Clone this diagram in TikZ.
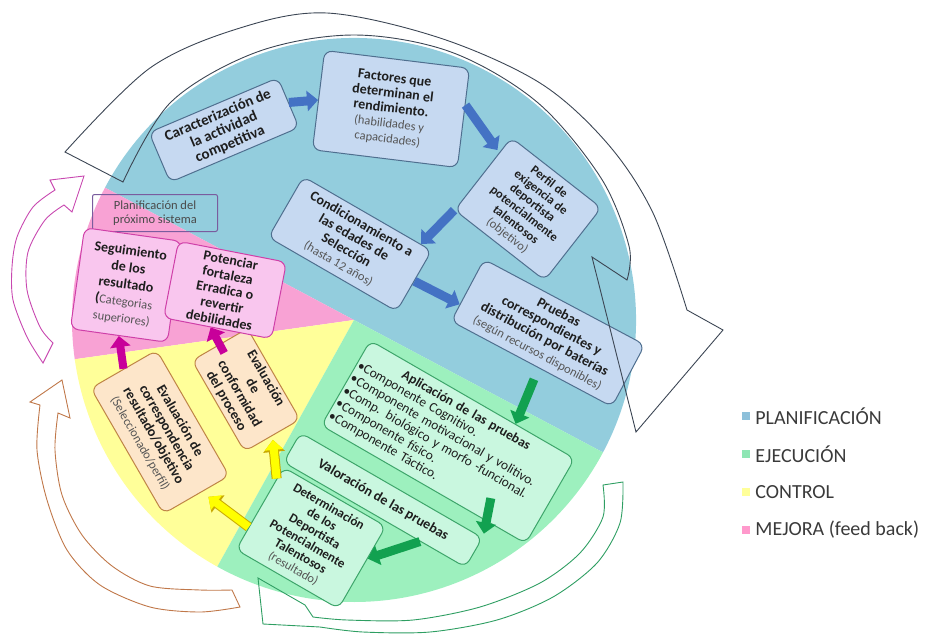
\documentclass[tikz,border=0pt]{standalone}
\usepackage{fontspec}
\setmainfont{Carlito}
\usetikzlibrary{arrows.meta, positioning, calc}
\definecolor{sectorPlan}{HTML}{93CDDD}
\definecolor{sectorEjec}{HTML}{9DF0BE}
\definecolor{sectorCtrl}{HTML}{FFFF99}
\definecolor{sectorMejora}{HTML}{F8A2D4}
\definecolor{cajaPlan}{HTML}{C6D9F1}
\definecolor{bordePlan}{HTML}{4F6F8F}
\definecolor{cajaEjec}{HTML}{C9F7DF}
\definecolor{bordeEjec}{HTML}{3DA56A}
\definecolor{cajaCtrl}{HTML}{FDE6CA}
\definecolor{bordeCtrl}{HTML}{BF8446}
\definecolor{cajaMejora}{HTML}{F9C6EE}
\definecolor{bordeMejora}{HTML}{CF3FA8}
\definecolor{flechaAzul}{HTML}{4472C4}
\definecolor{flechaVerde}{HTML}{12A150}
\definecolor{flechaAmarilla}{HTML}{FFFF00}
\definecolor{bordeAmarillo}{HTML}{C8A800}
\definecolor{flechaMagenta}{HTML}{C8009A}
\definecolor{textoCaja}{HTML}{1E1E1E}
\definecolor{textoNota}{HTML}{555555}
\definecolor{textoSistema}{HTML}{4A4A4A}
\definecolor{planSistema}{HTML}{7A5C9E}
\definecolor{arcoGris}{HTML}{3C4654}
\definecolor{arcoMagenta}{HTML}{C848B0}
\definecolor{arcoNaranja}{HTML}{C0784A}
\definecolor{arcoVerde}{HTML}{2E9E62}
\definecolor{legPlan}{HTML}{8DC0DA}
\definecolor{legEjec}{HTML}{8EE6B4}
\definecolor{legCtrl}{HTML}{FFFF99}
\definecolor{legMejora}{HTML}{FF99CC}
\definecolor{textoLeyenda}{HTML}{3A3A3A}

\newcommand{\nota}[1]{{\mdseries\fontsize{12.5}{14.5}\selectfont\color{textoNota}#1}}

\begin{document}
\begin{tikzpicture}[x=1pt, y=-1pt,
    caja/.style={rounded corners=8pt, line width=1pt, inner sep=2pt, align=center,
        text=textoCaja, font=\bfseries\fontsize{14}{15.2}\selectfont},
    plan/.style={caja, draw=bordePlan, fill=cajaPlan},
    ejec/.style={caja, draw=bordeEjec, fill=cajaEjec},
    ctrl/.style={caja, draw=bordeCtrl, fill=cajaCtrl},
    mejora/.style={caja, draw=bordeMejora, fill=cajaMejora},
    sistema/.style={draw=planSistema, line width=1pt, rounded corners=2pt, minimum width=125pt,
        minimum height=37pt, align=center, text=textoSistema, inner sep=1pt,
        font=\fontsize{12.5}{14}\selectfont},
    gorda/.style={line width=9pt, -{Triangle[length=11pt, width=20pt]}},
    azul/.style={gorda, flechaAzul},
    verde/.style={gorda, flechaVerde},
    magenta/.style={gorda, line width=8pt, flechaMagenta},
    amarilla/.style={line width=8pt, flechaAmarilla, -{Triangle[length=10pt, width=18pt]},
        preaction={draw=bordeAmarillo, line width=10pt, -{Triangle[length=12pt, width=21pt]}}},
    arco/.style={line width=0.9pt, line join=miter},
    cuadro/.style={minimum size=8pt, inner sep=0pt},
    leyenda/.style={font=\fontsize{20}{22}\selectfont, text=textoLeyenda, inner sep=0pt}
  ]
  \useasboundingbox (0,0) rectangle (927,635);

  % sectores del ciclo
  \coordinate (centro) at (354,320);
  \fill[sectorPlan] (centro) -- ++(-28:282pt) arc[start angle=-28, end angle=152, radius=282pt] -- cycle;
  \fill[sectorMejora] (centro) -- ++(152:282pt) arc[start angle=152, end angle=188, radius=282pt] -- cycle;
  \fill[sectorCtrl] (centro) -- ++(188:282pt) arc[start angle=188, end angle=241, radius=282pt] -- cycle;
  \fill[sectorEjec] (centro) -- ++(241:282pt) arc[start angle=241, end angle=332, radius=282pt] -- cycle;

  % planificacion
  \node[plan, rotate=23, minimum width=140pt, minimum height=54pt,
    font=\bfseries\fontsize{15}{15.6}\selectfont] (caract) at (224,130)
    {Caracterización de\\la actividad\\competitiva};
  \node[plan, rotate=-7, minimum width=146pt, minimum height=100pt] (factores) at (391,109)
    {Factores que\\determinan el\\rendimiento.\\\nota{(habilidades y}\\\nota{capacidades)}};
  \node[plan, rotate=-38, minimum width=114pt, minimum height=92pt,
    font=\bfseries\fontsize{12.5}{13.6}\selectfont] (perfil) at (528,209)
    {Perfil de\\exigencia de\\deportista\\potencialmente\\talentosos\\\nota{(objetivo)}};
  \node[plan, rotate=-30, minimum width=148pt, minimum height=70pt] (condic) at (350,244)
    {Condicionamiento a\\las edades de\\Selección\\\nota{(hasta 12 años)}};
  \node[plan, rotate=-28, minimum width=182pt, minimum height=70pt] (pruebas) at (548,333)
    {Pruebas\\correspondientes y\\distribución por baterías\\\nota{(según recursos disponibles)}};

  % ejecucion
  \node[ejec, rotate=-30, text width=232pt, align=left, minimum height=98pt,
    font=\bfseries\fontsize{13.5}{14.4}\selectfont] (aplic) at (448,442)
    {{\centering Aplicación de las pruebas\par}\mdseries •Componente Cognitivo.\\•Componente motivacional y volitivo.\\•Comp. biológico y morfo -funcional.\\•Componente físico.\\•Componente Táctico.};
  \node[ejec, rotate=-30, minimum width=210pt, minimum height=34pt] (valor) at (383,500)
    {Valoración de las pruebas};
  \node[ejec, rotate=-30, minimum width=118pt, minimum height=95pt,
    font=\bfseries\fontsize{13}{14.2}\selectfont] (determ) at (311,538)
    {Determinación\\de los\\Deportista\\Potencialmente\\Talentosos\\\nota{(resultado)}};

  % control
  \node[ctrl, rotate=-60, minimum width=145pt, minimum height=76pt] (evalcorr) at (160,432)
    {Evaluación de\\correspondencia\\resultado/objetivo\\\nota{(Seleccionado/perfil)}};
  \node[ctrl, rotate=-60, minimum width=105pt, minimum height=64pt] (evalconf) at (246,390)
    {Evaluación\\de\\conformidad\\del proceso};

  % mejora
  \node[sistema] (planif) at (155,213) {Planificación del\\próximo sistema};
  \node[mejora, rotate=-8, minimum width=98pt, minimum height=102pt,
    font=\bfseries\fontsize{14}{17}\selectfont] (seguim) at (126,285)
    {Seguimiento\\de los\\resultado\\(\nota{Categorias}\\\nota{superiores)}};
  \node[mejora, rotate=-11, minimum width=110pt, minimum height=78pt] (potenc) at (225,290)
    {Potenciar\\fortaleza\\Erradica o\\revertir\\debilidades};

  % flechas entre etapas
  \draw[azul] (caract.east) -- (factores.west);
  \draw[azul, shorten >=3pt] (factores.10) -- (perfil.155);
  \draw[azul] (perfil.south west) -- (condic.30);
  \draw[azul] (condic.east) -- (pruebas.190);
  \draw[verde, shorten <=12pt] (pruebas.-77) -- (aplic.45);
  \draw[verde, shorten >=4pt] ($(aplic.center)!0.55!(aplic.south east)$) -- (valor.north east);
  \draw[verde] ($(valor.south)!0.5!(valor.south east)$) -- (determ.10);
  \draw[amarilla, shorten >=8pt] (determ.200) -- (evalcorr.5);
  \draw[amarilla, shorten >=4pt] (determ.150) -- (evalconf.east);
  \draw[magenta] (evalcorr.west) -- (seguim.south);
  \draw[magenta, shorten <=-10pt] (evalconf.west) -- (potenc.-100);

  % flechas circulares del ciclo
  \draw[arco, draw=arcoGris] plot[smooth, tension=0.55] coordinates {(65,152) (150,68) (240,28) (327,13) (440,38) (540,83) (607,143) (653,213) (687,310)}
    -- (723,330) -- (636,432) -- (592,257) -- (627,280)
    -- plot[smooth, tension=0.55] coordinates {(627,280) (629,246) (601,178) (537,102) (451,52) (354,35) (257,52) (171,102) (123,182)} -- cycle;
  \draw[arco, draw=arcoMagenta] plot[smooth] coordinates {(43,363) (27,337) (13,300) (12,267) (17,237) (33,207) (55,190)}
    -- (50,180) -- (84,176) -- (72,212) -- (64,205)
    -- plot[smooth] coordinates {(64,205) (45,220) (28,252) (27,290) (40,327) (53,343)} -- cycle;
  \draw[arco, draw=arcoNaranja] plot[smooth] coordinates {(240,607) (200,612) (150,607) (100,585) (67,550) (47,500) (37,450) (40,405)}
    -- (30,402) -- (62,380) -- (70,418) -- (58,413)
    -- plot[smooth] coordinates {(58,413) (55,450) (62,495) (82,535) (112,566) (150,586) (200,590) (232,590)} -- cycle;
  \draw[arco, draw=arcoVerde] plot[smooth] coordinates {(623,482) (620,523) (597,563) (553,597) (497,620) (430,632) (363,632) (320,627)}
    -- (263,624) -- (258,578) -- (305,605) -- (313,617)
    -- plot[smooth] coordinates {(313,617) (347,620) (413,620) (480,607) (540,583) (580,553) (603,517) (603,485)} -- cycle;

  % leyenda
  \node[cuadro, fill=legPlan] (cPlan) at (746,416) {};
  \node[leyenda, right=5pt of cPlan] (tPlan) {PLANIFICACIÓN};
  \node[cuadro, fill=legEjec] (cEjec) at (746,454) {};
  \node[leyenda, right=5pt of cEjec] (tEjec) {EJECUCIÓN};
  \node[cuadro, fill=legCtrl] (cCtrl) at (746,492) {};
  \node[leyenda, right=5pt of cCtrl] (tCtrl) {CONTROL};
  \node[cuadro, fill=legMejora] (cMejora) at (746,530) {};
  \node[leyenda, right=5pt of cMejora] (tMejora) {MEJORA (feed back)};
\end{tikzpicture}
\end{document}
